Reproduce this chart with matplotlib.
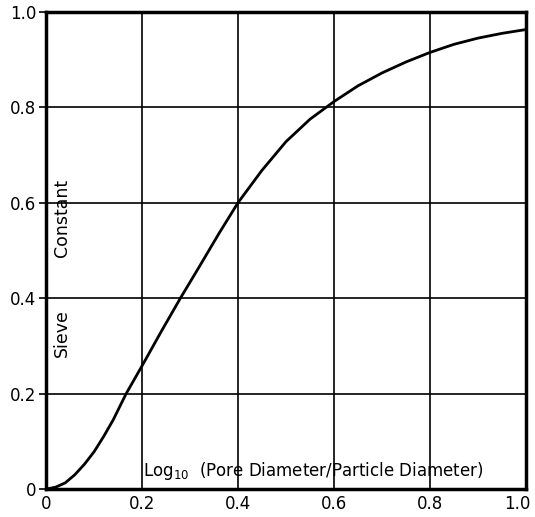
import numpy as np
import matplotlib.pyplot as plt
import matplotlib.transforms as mtransforms

# values
log_ratio = [0, 0.02, 0.04, 0.06, 0.08, 0.1, 0.12, 0.14, 0.167, 0.2,
             0.24, 0.28, 0.32, 0.36, 0.4, 0.45, 0.5, 0.55, 0.6, 0.65,
             0.7, 0.75, 0.8, 0.85, 0.9, 0.95, 1.0]
sieve_const = [0, 0.004, 0.013, 0.03, 0.052, 0.078, 0.11, 0.145, 0.2, 0.258,
               0.33, 0.4, 0.467, 0.535, 0.6, 0.668, 0.728, 0.775, 0.812, 0.845,
               0.872, 0.895, 0.915, 0.932, 0.945, 0.955, 0.963]

ticks = [0, 0.2, 0.4, 0.6, 0.8, 1.0]
tick_labels = ['0', '0.2', '0.4', '0.6', '0.8', '1.0']

fig = plt.figure(figsize=(5.35, 5.17), dpi=100)
ax = fig.add_axes([0.086, 0.054, 0.897, 0.923])

ax.plot(log_ratio, sieve_const, color='black', lw=2.0, solid_capstyle='round',
        solid_joinstyle='round')

ax.set_xlim(0, 1.0)
ax.set_ylim(0, 1.0)
ax.set_xticks(ticks)
ax.set_yticks(ticks)
ax.set_xticklabels(tick_labels, fontsize=12)
ax.set_yticklabels(tick_labels, fontsize=12)
ax.tick_params(axis='y', length=5, width=1.2, pad=2)
ax.tick_params(axis='x', length=0, pad=4)
ax.grid(True, color='black', lw=1.2)
for sp in ax.spines.values():
    sp.set_linewidth(2.5)

# keep the last x label inside the figure
last = ax.get_xticklabels()[-1]
last.set_transform(last.get_transform() +
                   mtransforms.ScaledTranslation(-6 / 72, 0, fig.dpi_scale_trans))

ax.text(0.033, 0.327, 'Sieve', rotation=90, fontsize=12.5, ha='center', va='center')
ax.text(0.033, 0.568, 'Constant', rotation=90, fontsize=12.5, ha='center', va='center')
ax.text(0.203, 0.014, 'Log$_{10}$  (Pore Diameter/Particle Diameter)',
        fontsize=12, ha='left', va='bottom')

fig.savefig('out.png', dpi=100)
